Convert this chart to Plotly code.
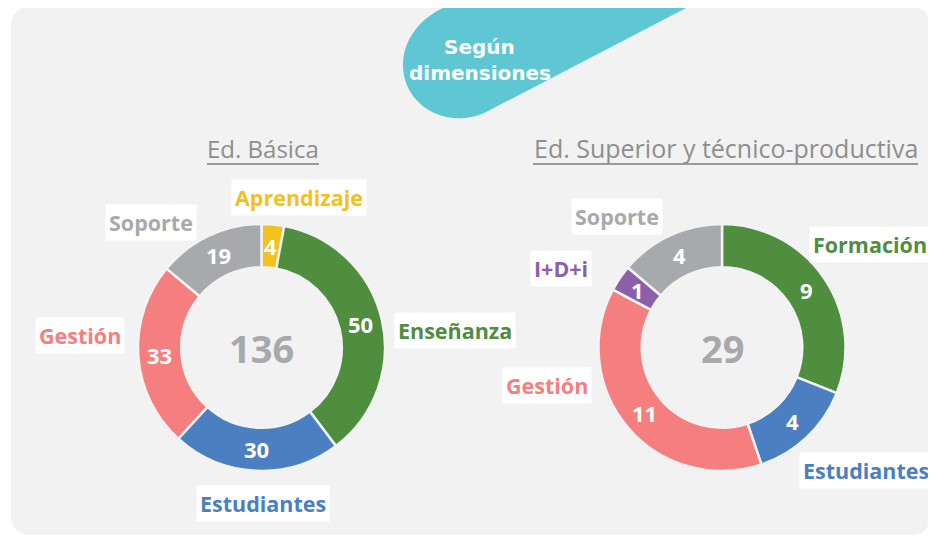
import math
import plotly.graph_objects as go

# page has an 8px body margin; the figure is sized to fill the rest of the 936x537 window
OFF = 8
W, H = 936 - OFF, 537 - OFF

# ---- data ----
basica_labels = ["Aprendizaje", "Enseñanza", "Estudiantes", "Gestión", "Soporte"]
basica_values = [4, 50, 30, 33, 19]
basica_colors = ["#f0c21b", "#4f8d3f", "#4a80c2", "#f57e7e", "#a8a9ac"]

superior_labels = ["Formación", "Estudiantes", "Gestión", "I+D+i", "Soporte"]
superior_values = [9, 4, 11, 1, 4]
superior_colors = ["#4f8d3f", "#4a80c2", "#f57e7e", "#8c5fab", "#a8a9ac"]

titles = ["Ed. Básica", "Ed. Superior y técnico-productiva"]
banner_lines = ["Según", "dimensiones"]

# ---- layout helpers (window pixel -> paper) ----
def fx(x):
    return (x - OFF) / W

def fy(y):
    return 1 - (y - OFF) / H

R = 123.5
HOLE = 0.65
centers = [(261.5, 347.5), (722.0, 347.5)]

def dom(c):
    cx, cy = c
    return dict(x=[fx(cx - R), fx(cx + R)], y=[fy(cy + R), fy(cy - R)])

def A(x, y, text, **kw):
    d = dict(x=fx(x), y=fy(y), xref="paper", yref="paper", text=text, showarrow=False,
             xanchor="center", yanchor="middle")
    d.update(kw)
    return d

fig = go.Figure()
ann = []
for labels, values, colors, c in [
    (basica_labels, basica_values, basica_colors, centers[0]),
    (superior_labels, superior_values, superior_colors, centers[1]),
]:
    fig.add_trace(go.Pie(
        labels=labels, values=values, hole=HOLE, sort=False, direction="clockwise",
        rotation=0, domain=dom(c),
        marker=dict(colors=colors, line=dict(color="#f2f3f3", width=2.5)),
        textinfo="none", showlegend=False, hoverinfo="label+value",
    ))
    # value labels at the middle of each slice (full size even in thin slices)
    total = sum(values)
    cum = 0
    rmid = R * (1 + HOLE) / 2
    for v in values:
        th = 2 * math.pi * (cum + v / 2) / total
        cum += v
        ann.append(A(c[0] + rmid * math.sin(th), c[1] - rmid * math.cos(th), str(v),
            font=dict(family="Open Sans", size=22, color="white", weight="bold")))

shapes = []
# panel
shapes.append(dict(type="path", xref="paper", yref="paper", layer="below",
    path=(f"M {fx(31)},{fy(7)} L {fx(910)},{fy(7)} Q {fx(930)},{fy(7)} {fx(930)},{fy(27)} "
          f"L {fx(930)},{fy(515)} Q {fx(930)},{fy(535)} {fx(910)},{fy(535)} "
          f"L {fx(31)},{fy(535)} Q {fx(11)},{fy(535)} {fx(11)},{fy(515)} "
          f"L {fx(11)},{fy(27)} Q {fx(11)},{fy(7)} {fx(31)},{fy(7)} Z"),
    fillcolor="#f2f2f2", line=dict(width=0)))
# teal banner
shapes.append(dict(type="path", xref="paper", yref="paper", layer="below",
    path=(f"M {fx(688)},{fy(7)} L {fx(445)},{fy(7)} "
          f"C {fx(420)},{fy(18)} {fx(403)},{fy(40)} {fx(403)},{fy(65)} "
          f"C {fx(403)},{fy(98)} {fx(432)},{fy(121)} {fx(465)},{fy(118)} "
          f"C {fx(474)},{fy(117)} {fx(481)},{fy(115)} {fx(490)},{fy(110)} Z"),
    fillcolor="#5ec7d3", line=dict(width=0)))
# title underlines
for x0, x1 in [(207, 319), (533, 918)]:
    shapes.append(dict(type="line", xref="paper", yref="paper",
        x0=fx(x0), x1=fx(x1), y0=fy(164), y1=fy(164),
        line=dict(color="#9b9b9b", width=2)))

for line, x, y in zip(banner_lines, [479, 480], [47, 73]):
    ann.append(A(x, y, line,
        font=dict(family="DejaVu Sans", size=20, color="white", weight="bold")))
for t, x, s in zip(titles, [262.5, 725.5], [24, 25]):
    ann.append(A(x, 148, t, font=dict(family="Open Sans", size=s, color="#8e8e8e")))
for vals, c in [(basica_values, centers[0]), (superior_values, centers[1])]:
    ann.append(A(c[0], c[1], str(sum(vals)),
        font=dict(family="Open Sans", size=38, color="#a8a9ac", weight="bold")))

label_pos_basica = [(299, 197), (455, 330), (263, 503), (80, 335), (151, 222)]
label_pos_superior = [(870, 244), (866, 470), (547, 385), (561, 268), (617, 216)]
for labels, colors, pos in [
    (basica_labels, basica_colors, label_pos_basica),
    (superior_labels, superior_colors, label_pos_superior),
]:
    for lab, col, (x, y) in zip(labels, colors, pos):
        ann.append(A(x, y, lab, bgcolor="white", borderpad=3,
            font=dict(family="Open Sans", size=21.5, color=col, weight="bold")))

fig.update_layout(width=W, height=H, margin=dict(l=0, r=0, t=0, b=0),
    paper_bgcolor="white", plot_bgcolor="white", shapes=shapes, annotations=ann)
fig.write_html("out.html")
